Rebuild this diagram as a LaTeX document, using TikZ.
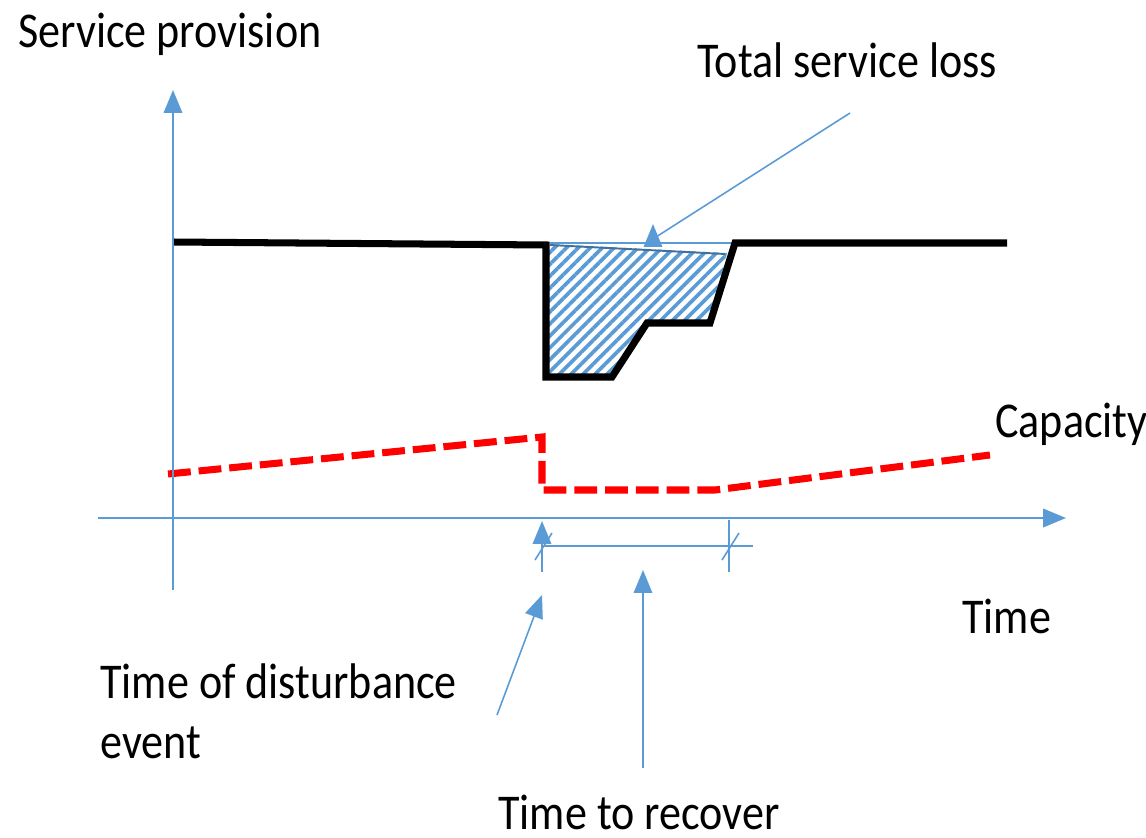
\documentclass[tikz,border=0pt]{standalone}
\usepackage{fontspec}
\setmainfont{Carlito}
\usetikzlibrary{arrows.meta,patterns.meta}
\definecolor{axblue}{HTML}{5B9BD5}
\definecolor{darkblue}{HTML}{41719C}
\newcommand\sqz[1]{\scalebox{0.88}[1]{#1}}
\tikzset{
  lbl/.style={anchor=base west,inner sep=0pt,font=\fontsize{28.5}{33.6}\selectfont},
  axis/.style={axblue,line width=1.1pt,-{Triangle[length=13pt,width=10.5pt]}},
  thin/.style={axblue,line width=0.9pt},
  pointer/.style={axblue,line width=0.9pt,-{Triangle[length=13pt,width=10.5pt]}},
  service/.style={black,line width=4pt,line join=miter},
  capacity/.style={red,line width=4pt,dash pattern=on 13pt off 4.5pt},
  loss/.style={pattern={Lines[angle=45,distance=4.8pt,line width=2.1pt]},pattern color=axblue}
}
\begin{document}
\begin{tikzpicture}[x=0.02cm,y=-0.02cm]
\useasboundingbox (0,0) rectangle (1146,838);
% coordinates
\coordinate (yb) at (173,590);
\coordinate (yt) at (173,90);
\coordinate (xl) at (98,518);
\coordinate (xr) at (1066,518);
% hatched area
\fill[loss] (546,244) -- (727,253) -- (710,323) -- (647,323) -- (612,377) -- (546,377) -- cycle;
\coordinate (h1) at (550,243);
\coordinate (h2) at (733,243);
\coordinate (h3) at (550,245);
\coordinate (h4) at (725,254);
\draw[axblue,line width=0.9pt] (h1) -- (h2);
\draw[darkblue,line width=1.1pt] (h3) -- (h4);
% service provision curve
\coordinate (s0) at (173,242);
\coordinate (s1) at (546,245);
\coordinate (s2) at (546,377);
\coordinate (s3) at (612,377);
\coordinate (s4) at (647,323);
\coordinate (s5) at (710,323);
\coordinate (s6) at (735,243);
\coordinate (s7) at (1007,243);
\draw[service] (s0) -- (s1) -- (s2) -- (s3) -- (s4) -- (s5) -- (s6) -- (s7);
% capacity
\coordinate (c0) at (168,474);
\coordinate (c1) at (542,437);
\coordinate (c2) at (542,490);
\coordinate (c3) at (715,490);
\coordinate (c4) at (990,455);
\draw[capacity] (c0) -- (c1) -- (c2) -- (c3) -- (c4);
% axes
\draw[axis] (yb) -- (yt);
\draw[axis] (xl) -- (xr);
% dimension
\coordinate (d1b) at (542,572);
\coordinate (d1t) at (542,521);
\coordinate (d2b) at (729,572);
\coordinate (d2t) at (729,520);
\coordinate (dl) at (542,546);
\coordinate (dr) at (753,546);
\draw[pointer] (d1b) -- (d1t);
\draw[thin] (d2b) -- (d2t);
\draw[thin] (dl) -- (dr);
\draw[thin] (535,560) -- (552,533);
\draw[thin] (722,560) -- (739,533);
% labels
\node[lbl] (sp) at (18,48) {\sqz{Service provision}};
\node[lbl] (tsl) at (697,78) {\sqz{Total service loss}};
\node[lbl] (cap) at (995,437) {\sqz{Capacity}};
\node[lbl] (tm) at (962,633) {\sqz{Time}};
\node[lbl,align=left] (tde) at (100,758) {\sqz{Time of disturbance}\\\sqz{event}};
\node[lbl] (ttr) at (498,829) {\sqz{Time to recover}};
% pointers
\coordinate (tslt) at (850,113);
\coordinate (tslh) at (656,237);
\draw[thin] (tslt) -- (tslh);
\coordinate (tslb) at (653,246);
\coordinate (tsla) at (653,224);
\draw[pointer] (tslb) -- (tsla);
\coordinate (tdet) at (497,715);
\coordinate (tdeh) at (542,595);
\draw[pointer] (tdet) -- (tdeh);
\coordinate (ttrt) at (643,768);
\coordinate (ttrh) at (643,570);
\draw[pointer] (ttrt) -- (ttrh);
\end{tikzpicture}
\end{document}
